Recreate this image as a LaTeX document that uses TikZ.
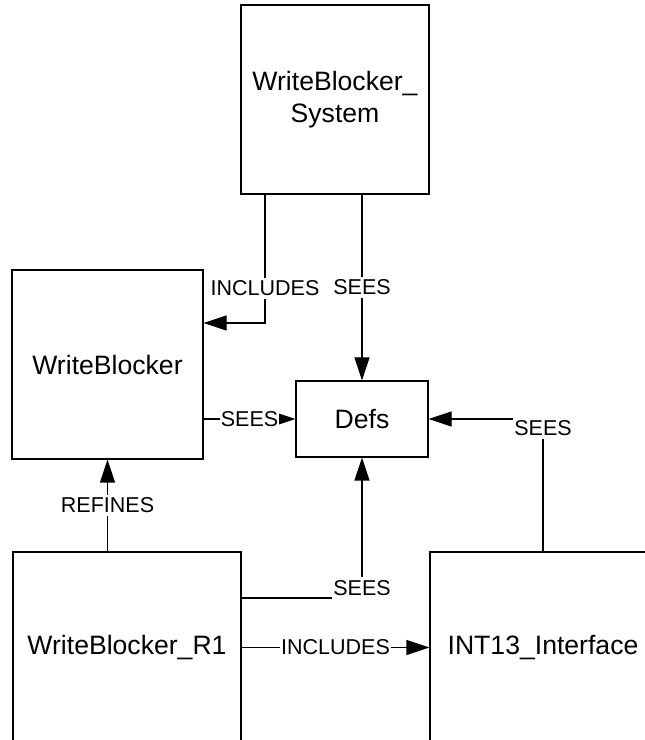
\documentclass[tikz,border=0pt]{standalone}
\usepackage{fontspec}
\setmainfont{Liberation Sans}
\usetikzlibrary{arrows.meta}
\begin{document}
\begin{tikzpicture}[x=1pt,y=1pt,
  box/.style={draw,line width=1.1pt,rectangle,inner sep=0pt,align=center,
    font=\fontsize{26.6}{31.5}\selectfont},
  arr/.style={line width=1.1pt,-{Triangle[length=23pt,width=15pt]}},
  lbl/.style={fill=white,inner xsep=1pt,inner ysep=3pt,
    font=\fontsize{21.5}{24}\selectfont}]
\useasboundingbox (0,0) rectangle (645,740);
\clip (0,0) rectangle (645,740);
\fill[white] (0,0) rectangle (645,740);
\node[box,minimum width=188pt,minimum height=189pt] (sys) at (335,640.5) {WriteBlocker\_\\System};
\node[box,minimum width=191pt,minimum height=189pt] (wb) at (107.5,375.5) {WriteBlocker};
\node[box,minimum width=132pt,minimum height=76pt] (defs) at (362,321) {Defs};
\node[box,minimum width=228pt,minimum height=191pt] (r1) at (127,92.5) {WriteBlocker\_R1};
\node[box,minimum width=226pt,minimum height=191pt] (int) at (543,92.5) {INT13\_Interface};
\coordinate (c1) at (265,417);
\draw[arr] (sys.south -| c1) -- node[lbl,pos=0.73] {INCLUDES} (c1) -- (c1 -| wb.east);
\draw[arr] (sys.south -| defs.north) -- node[lbl,pos=0.5] {SEES} (defs.north);
\draw[arr] (defs.west -| wb.east) -- node[lbl] {SEES} (defs.west);
\draw[arr] (int.north) |- node[lbl,pos=0.5,yshift=-9pt] {SEES} (defs.east);
\draw[arr] ([yshift=49.5pt]r1.east) -| node[lbl,pos=0.5,yshift=10pt] {SEES} (defs.south);
\draw[arr] (r1.east) -- node[lbl] {INCLUDES} (int.west);
\draw[arr] (r1.north -| wb.south) -- node[lbl] {REFINES} (wb.south);
\end{tikzpicture}
\end{document}
